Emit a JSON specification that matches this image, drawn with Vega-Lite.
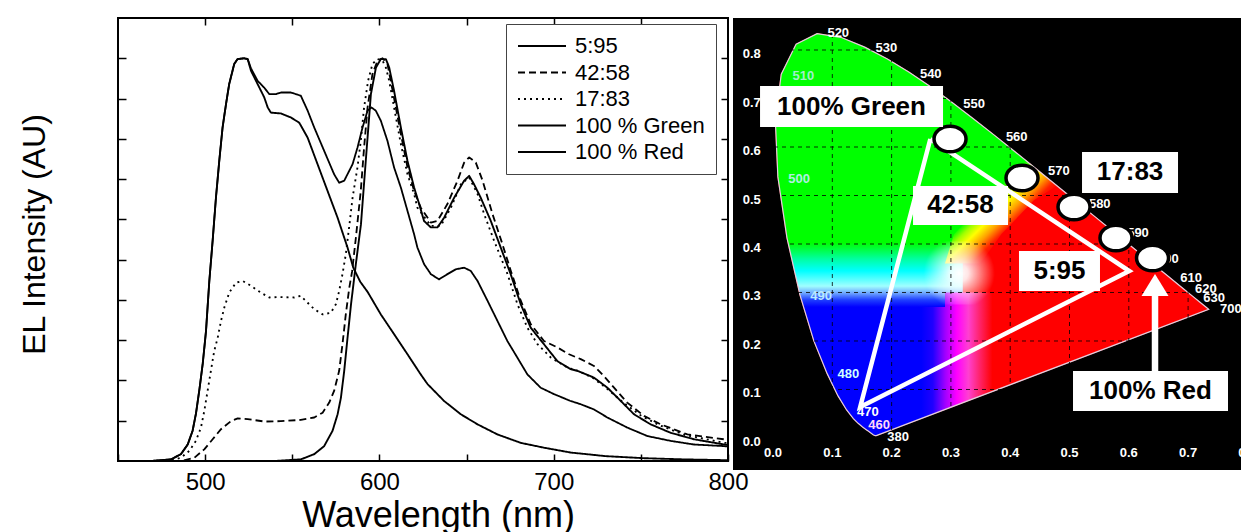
{
  "$schema": "https://vega.github.io/schema/vega-lite/v6.json",
  "background": "white",
  "padding": {"left": 17, "top": 16, "right": 0, "bottom": 0},
  "bounds": "flush",
  "spacing": 5,
  "config": {"font": "Liberation Sans"},
  "datasets": {
    "spectra": [
      {"s":"100 % Green","w":450,"v":0},{"s":"100 % Green","w":468.9,"v":0},{"s":"100 % Green","w":480.4,"v":0.004},{"s":"100 % Green","w":486.1,"v":0.017},{"s":"100 % Green","w":490,"v":0.041},{"s":"100 % Green","w":492.8,"v":0.075},{"s":"100 % Green","w":494.7,"v":0.117},{"s":"100 % Green","w":496.6,"v":0.174},{"s":"100 % Green","w":498.6,"v":0.241},{"s":"100 % Green","w":500.5,"v":0.323},{"s":"100 % Green","w":502.4,"v":0.447},{"s":"100 % Green","w":504.3,"v":0.547},{"s":"100 % Green","w":506.2,"v":0.654},{"s":"100 % Green","w":508.1,"v":0.745},{"s":"100 % Green","w":510,"v":0.828},{"s":"100 % Green","w":512,"v":0.887},{"s":"100 % Green","w":513.8,"v":0.936},{"s":"100 % Green","w":516.7,"v":0.986},{"s":"100 % Green","w":518.6,"v":0.998},{"s":"100 % Green","w":522.4,"v":1.0},{"s":"100 % Green","w":524.4,"v":0.998},{"s":"100 % Green","w":526.3,"v":0.969},{"s":"100 % Green","w":530.1,"v":0.936},{"s":"100 % Green","w":533.9,"v":0.903},{"s":"100 % Green","w":535.9,"v":0.878},{"s":"100 % Green","w":537.7,"v":0.865},{"s":"100 % Green","w":543.5,"v":0.863},{"s":"100 % Green","w":549.2,"v":0.853},{"s":"100 % Green","w":554,"v":0.84},{"s":"100 % Green","w":558.8,"v":0.803},{"s":"100 % Green","w":564.5,"v":0.737},{"s":"100 % Green","w":570.2,"v":0.671},{"s":"100 % Green","w":576,"v":0.604},{"s":"100 % Green","w":581.7,"v":0.53},{"s":"100 % Green","w":585,"v":0.48},{"s":"100 % Green","w":589,"v":0.445},{"s":"100 % Green","w":593.2,"v":0.42},{"s":"100 % Green","w":600.8,"v":0.364},{"s":"100 % Green","w":608.4,"v":0.315},{"s":"100 % Green","w":616.1,"v":0.265},{"s":"100 % Green","w":623.7,"v":0.215},{"s":"100 % Green","w":627.6,"v":0.191},{"s":"100 % Green","w":637.1,"v":0.149},{"s":"100 % Green","w":646.7,"v":0.116},{"s":"100 % Green","w":656.3,"v":0.091},{"s":"100 % Green","w":667.7,"v":0.066},{"s":"100 % Green","w":681.1,"v":0.045},{"s":"100 % Green","w":694.5,"v":0.033},{"s":"100 % Green","w":709.7,"v":0.021},{"s":"100 % Green","w":730,"v":0.012},{"s":"100 % Green","w":751.6,"v":0.007},{"s":"100 % Green","w":775,"v":0.004},{"s":"100 % Green","w":800,"v":0.002},
      {"s":"5:95","w":450,"v":0},{"s":"5:95","w":468.9,"v":0},{"s":"5:95","w":480.4,"v":0.004},{"s":"5:95","w":486.1,"v":0.017},{"s":"5:95","w":490,"v":0.041},{"s":"5:95","w":492.8,"v":0.075},{"s":"5:95","w":494.7,"v":0.117},{"s":"5:95","w":496.6,"v":0.174},{"s":"5:95","w":498.6,"v":0.241},{"s":"5:95","w":500.5,"v":0.323},{"s":"5:95","w":502.4,"v":0.447},{"s":"5:95","w":504.3,"v":0.547},{"s":"5:95","w":506.2,"v":0.654},{"s":"5:95","w":508.1,"v":0.745},{"s":"5:95","w":510,"v":0.828},{"s":"5:95","w":512,"v":0.887},{"s":"5:95","w":513.8,"v":0.936},{"s":"5:95","w":516.7,"v":0.986},{"s":"5:95","w":518.6,"v":0.998},{"s":"5:95","w":522.4,"v":1.0},{"s":"5:95","w":524.4,"v":0.998},{"s":"5:95","w":526.3,"v":0.975},{"s":"5:95","w":530.1,"v":0.944},{"s":"5:95","w":533.9,"v":0.927},{"s":"5:95","w":536.8,"v":0.911},{"s":"5:95","w":540.6,"v":0.911},{"s":"5:95","w":543.5,"v":0.915},{"s":"5:95","w":549.2,"v":0.915},{"s":"5:95","w":554.9,"v":0.907},{"s":"5:95","w":558.8,"v":0.87},{"s":"5:95","w":562.6,"v":0.828},{"s":"5:95","w":568.3,"v":0.77},{"s":"5:95","w":574,"v":0.712},{"s":"5:95","w":576.9,"v":0.691},{"s":"5:95","w":579.8,"v":0.696},{"s":"5:95","w":584.6,"v":0.737},{"s":"5:95","w":587.4,"v":0.778},{"s":"5:95","w":590.3,"v":0.828},{"s":"5:95","w":593.2,"v":0.87},{"s":"5:95","w":595.4,"v":0.878},{"s":"5:95","w":597.9,"v":0.87},{"s":"5:95","w":600.8,"v":0.845},{"s":"5:95","w":604.6,"v":0.795},{"s":"5:95","w":608.4,"v":0.729},{"s":"5:95","w":612.3,"v":0.679},{"s":"5:95","w":616.1,"v":0.621},{"s":"5:95","w":619.9,"v":0.563},{"s":"5:95","w":621.8,"v":0.53},{"s":"5:95","w":625.6,"v":0.489},{"s":"5:95","w":629.5,"v":0.464},{"s":"5:95","w":634.2,"v":0.451},{"s":"5:95","w":639,"v":0.464},{"s":"5:95","w":643.8,"v":0.476},{"s":"5:95","w":648.6,"v":0.48},{"s":"5:95","w":652.4,"v":0.472},{"s":"5:95","w":656.3,"v":0.447},{"s":"5:95","w":662,"v":0.398},{"s":"5:95","w":667.7,"v":0.348},{"s":"5:95","w":673.4,"v":0.298},{"s":"5:95","w":679.1,"v":0.257},{"s":"5:95","w":684.9,"v":0.215},{"s":"5:95","w":692.5,"v":0.182},{"s":"5:95","w":700.2,"v":0.166},{"s":"5:95","w":709.7,"v":0.149},{"s":"5:95","w":715.5,"v":0.141},{"s":"5:95","w":723.1,"v":0.128},{"s":"5:95","w":730.8,"v":0.108},{"s":"5:95","w":742.2,"v":0.083},{"s":"5:95","w":753.7,"v":0.062},{"s":"5:95","w":767,"v":0.05},{"s":"5:95","w":780.4,"v":0.041},{"s":"5:95","w":797.6,"v":0.037},{"s":"5:95","w":800,"v":0.036},
      {"s":"100 % Red","w":450,"v":0},{"s":"100 % Red","w":540,"v":0},{"s":"100 % Red","w":554.9,"v":0.004},{"s":"100 % Red","w":562.6,"v":0.017},{"s":"100 % Red","w":568.3,"v":0.037},{"s":"100 % Red","w":573.1,"v":0.075},{"s":"100 % Red","w":576,"v":0.116},{"s":"100 % Red","w":577.9,"v":0.157},{"s":"100 % Red","w":579.8,"v":0.224},{"s":"100 % Red","w":581.7,"v":0.306},{"s":"100 % Red","w":583.7,"v":0.389},{"s":"100 % Red","w":586.5,"v":0.49},{"s":"100 % Red","w":589.4,"v":0.588},{"s":"100 % Red","w":592.3,"v":0.753},{"s":"100 % Red","w":595.1,"v":0.911},{"s":"100 % Red","w":598,"v":0.977},{"s":"100 % Red","w":600.8,"v":0.998},{"s":"100 % Red","w":603.7,"v":0.998},{"s":"100 % Red","w":605.6,"v":0.977},{"s":"100 % Red","w":608.4,"v":0.919},{"s":"100 % Red","w":612.3,"v":0.828},{"s":"100 % Red","w":616.1,"v":0.745},{"s":"100 % Red","w":619.9,"v":0.679},{"s":"100 % Red","w":622.8,"v":0.638},{"s":"100 % Red","w":625.6,"v":0.596},{"s":"100 % Red","w":629.5,"v":0.58},{"s":"100 % Red","w":633.3,"v":0.58},{"s":"100 % Red","w":637.1,"v":0.604},{"s":"100 % Red","w":642.9,"v":0.654},{"s":"100 % Red","w":648.6,"v":0.696},{"s":"100 % Red","w":651.5,"v":0.708},{"s":"100 % Red","w":654.3,"v":0.687},{"s":"100 % Red","w":658.1,"v":0.654},{"s":"100 % Red","w":663.9,"v":0.596},{"s":"100 % Red","w":669.6,"v":0.53},{"s":"100 % Red","w":675.3,"v":0.464},{"s":"100 % Red","w":681.1,"v":0.389},{"s":"100 % Red","w":686.8,"v":0.331},{"s":"100 % Red","w":694.4,"v":0.29},{"s":"100 % Red","w":702.1,"v":0.248},{"s":"100 % Red","w":709.7,"v":0.228},{"s":"100 % Red","w":713.6,"v":0.224},{"s":"100 % Red","w":723.1,"v":0.207},{"s":"100 % Red","w":730.8,"v":0.182},{"s":"100 % Red","w":738.5,"v":0.149},{"s":"100 % Red","w":746.1,"v":0.116},{"s":"100 % Red","w":755.6,"v":0.091},{"s":"100 % Red","w":767.1,"v":0.07},{"s":"100 % Red","w":780.5,"v":0.054},{"s":"100 % Red","w":797.7,"v":0.041},{"s":"100 % Red","w":800,"v":0.04},
      {"s":"42:58","w":450,"v":0},{"s":"42:58","w":486.1,"v":0},{"s":"42:58","w":493.8,"v":0.008},{"s":"42:58","w":499.5,"v":0.029},{"s":"42:58","w":504.3,"v":0.054},{"s":"42:58","w":509.1,"v":0.079},{"s":"42:58","w":514.8,"v":0.099},{"s":"42:58","w":518.7,"v":0.106},{"s":"42:58","w":524.4,"v":0.104},{"s":"42:58","w":533.9,"v":0.098},{"s":"42:58","w":543.5,"v":0.099},{"s":"42:58","w":554.9,"v":0.102},{"s":"42:58","w":562.6,"v":0.108},{"s":"42:58","w":567.4,"v":0.12},{"s":"42:58","w":571.2,"v":0.145},{"s":"42:58","w":574,"v":0.174},{"s":"42:58","w":576.9,"v":0.224},{"s":"42:58","w":578.8,"v":0.29},{"s":"42:58","w":580.7,"v":0.364},{"s":"42:58","w":582.7,"v":0.43},{"s":"42:58","w":584.3,"v":0.47},{"s":"42:58","w":586.5,"v":0.555},{"s":"42:58","w":589.3,"v":0.671},{"s":"42:58","w":591.2,"v":0.778},{"s":"42:58","w":593.2,"v":0.878},{"s":"42:58","w":596,"v":0.961},{"s":"42:58","w":598.9,"v":0.994},{"s":"42:58","w":601.8,"v":1.0},{"s":"42:58","w":604.6,"v":0.986},{"s":"42:58","w":606.5,"v":0.944},{"s":"42:58","w":609.4,"v":0.878},{"s":"42:58","w":612.3,"v":0.812},{"s":"42:58","w":616.1,"v":0.729},{"s":"42:58","w":619.9,"v":0.671},{"s":"42:58","w":623.7,"v":0.629},{"s":"42:58","w":629.5,"v":0.592},{"s":"42:58","w":633.3,"v":0.596},{"s":"42:58","w":639,"v":0.638},{"s":"42:58","w":644.8,"v":0.696},{"s":"42:58","w":648.6,"v":0.741},{"s":"42:58","w":651.5,"v":0.754},{"s":"42:58","w":655.3,"v":0.741},{"s":"42:58","w":659.2,"v":0.696},{"s":"42:58","w":664.9,"v":0.613},{"s":"42:58","w":670.6,"v":0.538},{"s":"42:58","w":675.4,"v":0.472},{"s":"42:58","w":681.1,"v":0.398},{"s":"42:58","w":686.8,"v":0.34},{"s":"42:58","w":694.4,"v":0.298},{"s":"42:58","w":702.1,"v":0.282},{"s":"42:58","w":708.8,"v":0.265},{"s":"42:58","w":715.5,"v":0.253},{"s":"42:58","w":723.1,"v":0.236},{"s":"42:58","w":728.8,"v":0.211},{"s":"42:58","w":734.6,"v":0.182},{"s":"42:58","w":742.2,"v":0.145},{"s":"42:58","w":751.8,"v":0.112},{"s":"42:58","w":761.4,"v":0.091},{"s":"42:58","w":776.7,"v":0.066},{"s":"42:58","w":797.7,"v":0.054},{"s":"42:58","w":800,"v":0.053},
      {"s":"17:83","w":450,"v":0},{"s":"17:83","w":478.5,"v":0},{"s":"17:83","w":486.1,"v":0.008},{"s":"17:83","w":490.9,"v":0.025},{"s":"17:83","w":494.7,"v":0.05},{"s":"17:83","w":497.6,"v":0.083},{"s":"17:83","w":499.5,"v":0.124},{"s":"17:83","w":501.4,"v":0.174},{"s":"17:83","w":503.3,"v":0.224},{"s":"17:83","w":505.2,"v":0.273},{"s":"17:83","w":507.2,"v":0.306},{"s":"17:83","w":509.1,"v":0.348},{"s":"17:83","w":511,"v":0.381},{"s":"17:83","w":513.8,"v":0.418},{"s":"17:83","w":517.7,"v":0.443},{"s":"17:83","w":521.5,"v":0.447},{"s":"17:83","w":526.3,"v":0.435},{"s":"17:83","w":532,"v":0.418},{"s":"17:83","w":536.8,"v":0.406},{"s":"17:83","w":542.5,"v":0.407},{"s":"17:83","w":551.1,"v":0.406},{"s":"17:83","w":554.9,"v":0.41},{"s":"17:83","w":558.8,"v":0.393},{"s":"17:83","w":562.6,"v":0.377},{"s":"17:83","w":567.4,"v":0.364},{"s":"17:83","w":572.1,"v":0.368},{"s":"17:83","w":575,"v":0.389},{"s":"17:83","w":576.9,"v":0.422},{"s":"17:83","w":578.8,"v":0.464},{"s":"17:83","w":580.7,"v":0.513},{"s":"17:83","w":582.6,"v":0.58},{"s":"17:83","w":584.6,"v":0.654},{"s":"17:83","w":587.4,"v":0.729},{"s":"17:83","w":589.3,"v":0.795},{"s":"17:83","w":591.2,"v":0.878},{"s":"17:83","w":593.5,"v":0.944},{"s":"17:83","w":596,"v":0.986},{"s":"17:83","w":598.9,"v":0.998},{"s":"17:83","w":601.8,"v":0.994},{"s":"17:83","w":603.7,"v":0.977},{"s":"17:83","w":605.6,"v":0.944},{"s":"17:83","w":608.4,"v":0.878},{"s":"17:83","w":612.3,"v":0.787},{"s":"17:83","w":616.1,"v":0.712},{"s":"17:83","w":619.9,"v":0.663},{"s":"17:83","w":621.8,"v":0.629},{"s":"17:83","w":629.5,"v":0.584},{"s":"17:83","w":635.2,"v":0.584},{"s":"17:83","w":641,"v":0.629},{"s":"17:83","w":646.7,"v":0.687},{"s":"17:83","w":651.5,"v":0.704},{"s":"17:83","w":656.3,"v":0.663},{"s":"17:83","w":660.1,"v":0.613},{"s":"17:83","w":665.8,"v":0.547},{"s":"17:83","w":673.5,"v":0.464},{"s":"17:83","w":679.2,"v":0.389},{"s":"17:83","w":684.9,"v":0.331},{"s":"17:83","w":690.7,"v":0.29},{"s":"17:83","w":698.3,"v":0.257},{"s":"17:83","w":707.9,"v":0.232},{"s":"17:83","w":715,"v":0.222},{"s":"17:83","w":723,"v":0.205},{"s":"17:83","w":731,"v":0.178},{"s":"17:83","w":740,"v":0.145},{"s":"17:83","w":750,"v":0.113},{"s":"17:83","w":760,"v":0.09},{"s":"17:83","w":775,"v":0.065},{"s":"17:83","w":798,"v":0.045},{"s":"17:83","w":800,"v":0.045}
    ],
    "poly": [
      {"p":"shoe","i":0,"x":0.1741,"y":0.005},{"p":"shoe","i":1,"x":0.1738,"y":0.0049},{"p":"shoe","i":2,"x":0.1733,"y":0.0048},{"p":"shoe","i":3,"x":0.1726,"y":0.0048},{"p":"shoe","i":4,"x":0.1714,"y":0.0051},{"p":"shoe","i":5,"x":0.1689,"y":0.0069},{"p":"shoe","i":6,"x":0.1644,"y":0.0109},{"p":"shoe","i":7,"x":0.1611,"y":0.0138},{"p":"shoe","i":8,"x":0.1566,"y":0.0177},{"p":"shoe","i":9,"x":0.151,"y":0.0227},{"p":"shoe","i":10,"x":0.144,"y":0.0297},{"p":"shoe","i":11,"x":0.1355,"y":0.0399},{"p":"shoe","i":12,"x":0.1241,"y":0.0578},{"p":"shoe","i":13,"x":0.1096,"y":0.0868},{"p":"shoe","i":14,"x":0.0913,"y":0.1327},{"p":"shoe","i":15,"x":0.0687,"y":0.2007},{"p":"shoe","i":16,"x":0.0454,"y":0.295},{"p":"shoe","i":17,"x":0.0235,"y":0.4127},{"p":"shoe","i":18,"x":0.0082,"y":0.5384},{"p":"shoe","i":19,"x":0.0039,"y":0.6548},{"p":"shoe","i":20,"x":0.0139,"y":0.7502},{"p":"shoe","i":21,"x":0.0389,"y":0.812},{"p":"shoe","i":22,"x":0.0743,"y":0.8338},{"p":"shoe","i":23,"x":0.1142,"y":0.8262},{"p":"shoe","i":24,"x":0.1547,"y":0.8059},{"p":"shoe","i":25,"x":0.1929,"y":0.7816},{"p":"shoe","i":26,"x":0.2296,"y":0.7543},{"p":"shoe","i":27,"x":0.2658,"y":0.7243},{"p":"shoe","i":28,"x":0.3016,"y":0.6923},{"p":"shoe","i":29,"x":0.3373,"y":0.6589},{"p":"shoe","i":30,"x":0.3731,"y":0.6245},{"p":"shoe","i":31,"x":0.4087,"y":0.5896},{"p":"shoe","i":32,"x":0.4441,"y":0.5547},{"p":"shoe","i":33,"x":0.4788,"y":0.5202},{"p":"shoe","i":34,"x":0.5125,"y":0.4866},{"p":"shoe","i":35,"x":0.5448,"y":0.4544},{"p":"shoe","i":36,"x":0.5752,"y":0.4242},{"p":"shoe","i":37,"x":0.6029,"y":0.3965},{"p":"shoe","i":38,"x":0.627,"y":0.3725},{"p":"shoe","i":39,"x":0.6482,"y":0.3514},{"p":"shoe","i":40,"x":0.6658,"y":0.334},{"p":"shoe","i":41,"x":0.6915,"y":0.3083},{"p":"shoe","i":42,"x":0.7079,"y":0.292},{"p":"shoe","i":43,"x":0.719,"y":0.2809},{"p":"shoe","i":44,"x":0.73,"y":0.27},{"p":"shoe","i":45,"x":0.7347,"y":0.2653},{"p":"shoe","i":46,"x":0.1741,"y":0.005},
      {"p":"left","i":0,"x":0.4441,"y":0.5547},{"p":"left","i":1,"x":0.4087,"y":0.5896},{"p":"left","i":2,"x":0.3731,"y":0.6245},{"p":"left","i":3,"x":0.3373,"y":0.6589},{"p":"left","i":4,"x":0.3016,"y":0.6923},{"p":"left","i":5,"x":0.2658,"y":0.7243},{"p":"left","i":6,"x":0.2296,"y":0.7543},{"p":"left","i":7,"x":0.1929,"y":0.7816},{"p":"left","i":8,"x":0.1547,"y":0.8059},{"p":"left","i":9,"x":0.1142,"y":0.8262},{"p":"left","i":10,"x":0.0743,"y":0.8338},{"p":"left","i":11,"x":0.0389,"y":0.812},{"p":"left","i":12,"x":0.0139,"y":0.7502},{"p":"left","i":13,"x":0.0039,"y":0.6548},{"p":"left","i":14,"x":0.0082,"y":0.5384},{"p":"left","i":15,"x":0.0235,"y":0.4127},{"p":"left","i":16,"x":0.0454,"y":0.295},{"p":"left","i":17,"x":0.0687,"y":0.2007},{"p":"left","i":18,"x":0.0913,"y":0.1327},{"p":"left","i":19,"x":0.1096,"y":0.0868},{"p":"left","i":20,"x":0.1241,"y":0.0578},{"p":"left","i":21,"x":0.1355,"y":0.0399},{"p":"left","i":22,"x":0.144,"y":0.0297},{"p":"left","i":23,"x":0.151,"y":0.0227},{"p":"left","i":24,"x":0.1566,"y":0.0177},{"p":"left","i":25,"x":0.1611,"y":0.0138},{"p":"left","i":26,"x":0.1644,"y":0.0109},{"p":"left","i":27,"x":0.1689,"y":0.0069},{"p":"left","i":28,"x":0.1714,"y":0.0051},{"p":"left","i":29,"x":0.1733,"y":0.0048},{"p":"left","i":30,"x":0.1741,"y":0.005},{"p":"left","i":31,"x":0.27,"y":0.0495},{"p":"left","i":32,"x":0.27,"y":0.27},{"p":"left","i":33,"x":0.32,"y":0.27},{"p":"left","i":34,"x":0.32,"y":0.37},{"p":"left","i":35,"x":0.345,"y":0.42},{"p":"left","i":36,"x":0.4,"y":0.49},
      {"p":"mag","i":0,"x":0.25,"y":0.0402},{"p":"mag","i":1,"x":0.25,"y":0.27},{"p":"mag","i":2,"x":0.29,"y":0.27},{"p":"mag","i":3,"x":0.29,"y":0.3},{"p":"mag","i":4,"x":0.4,"y":0.3},{"p":"mag","i":5,"x":0.4,"y":0.1099},
      {"p":"yel","i":0,"x":0.29,"y":0.36},{"p":"yel","i":1,"x":0.305,"y":0.42},{"p":"yel","i":2,"x":0.36,"y":0.49},{"p":"yel","i":3,"x":0.4087,"y":0.5896},{"p":"yel","i":4,"x":0.4441,"y":0.5547},{"p":"yel","i":5,"x":0.4788,"y":0.5202},{"p":"yel","i":6,"x":0.44,"y":0.49},{"p":"yel","i":7,"x":0.385,"y":0.42},{"p":"yel","i":8,"x":0.35,"y":0.36},
      {"p":"spot","i":0,"x":0.254,"y":0.275},{"p":"spot","i":1,"x":0.254,"y":0.405},{"p":"spot","i":2,"x":0.374,"y":0.405},{"p":"spot","i":3,"x":0.374,"y":0.275}
    ],
    "wl": [
      {"t":"520","x":0.110,"y":0.835},{"t":"530","x":0.191,"y":0.804},{"t":"540","x":0.266,"y":0.751},{"t":"550","x":0.339,"y":0.689},{"t":"560","x":0.411,"y":0.62},{"t":"570","x":0.482,"y":0.551},{"t":"580","x":0.551,"y":0.4825},{"t":"590","x":0.6155,"y":0.4227},{"t":"600","x":0.666,"y":0.369},{"t":"610","x":0.705,"y":0.33},{"t":"620","x":0.73,"y":0.307},{"t":"630","x":0.744,"y":0.289},{"t":"700","x":0.772,"y":0.266},{"t":"510","x":0.051,"y":0.746},{"t":"500","x":0.044,"y":0.534},{"t":"490","x":0.081,"y":0.293},{"t":"480","x":0.127,"y":0.132},{"t":"470","x":0.16,"y":0.054},{"t":"460","x":0.179,"y":0.027},{"t":"380","x":0.211,"y":0.002}
    ],
    "ticks": [{"v":0},{"v":0.1},{"v":0.2},{"v":0.3},{"v":0.4},{"v":0.5},{"v":0.6},{"v":0.7},{"v":0.8}],
    "tri": [{"i":0,"x":0.2653,"y":0.6165},{"i":1,"x":0.6008,"y":0.3443},{"i":2,"x":0.147,"y":0.064},{"i":3,"x":0.2653,"y":0.6165}],
    "circ": [{"x":0.2985,"y":0.6165},{"x":0.4199,"y":0.5361},{"x":0.5076,"y":0.4763},{"x":0.5784,"y":0.4124},{"x":0.64,"y":0.3711}],
    "boxes": [
      {"t":"100% Green","x1":-0.0219,"x2":0.2867,"y1":0.6412,"y2":0.7258,"tx":0.1324,"ty":0.6835},
      {"t":"17:83","x1":0.5211,"x2":0.683,"y1":0.5052,"y2":0.5897,"tx":0.6021,"ty":0.5475},
      {"t":"42:58","x1":0.2361,"x2":0.3963,"y1":0.4392,"y2":0.5196,"tx":0.3162,"ty":0.4794},
      {"t":"5:95","x1":0.4148,"x2":0.5514,"y1":0.3031,"y2":0.3856,"tx":0.4831,"ty":0.3444},
      {"t":"100% Red","x1":0.5059,"x2":0.7673,"y1":0.0557,"y2":0.1381,"tx":0.6366,"ty":0.0969}
    ]
  },
  "hconcat": [
    {
      "width": 610,
      "height": 443,
      "view": {"stroke": "black", "strokeWidth": 2},
      "data": {"name": "spectra"},
      "layer": [
        {
          "mark": {"type": "line", "color": "black", "strokeJoin": "round"},
          "encoding": {
            "x": {"field": "w", "type": "quantitative", "scale": {"domain": [450, 800], "nice": false, "zero": false},
              "axis": {"orient": "bottom", "values": [450, 500, 550, 600, 650, 700, 750, 800], "labelExpr": "datum.value % 100 == 0 ? datum.label : ''", "domain": false, "grid": false, "tickSize": -7, "tickColor": "black", "tickWidth": 1.5, "labelFontSize": 24, "labelColor": "black", "labelPadding": 16, "labelFlush": false, "labelOverlap": false, "title": "Wavelength (nm)", "titleFontSize": 36, "titleFontWeight": "normal", "titleColor": "black", "titleX": 320, "titleY": 65, "titleBaseline": "alphabetic", "titleAlign": "center"}},
            "y": {"field": "v", "type": "quantitative", "scale": {"domain": [0, 1.1], "nice": false},
              "axis": {"orient": "left", "values": [0.1, 0.2, 0.3, 0.4, 0.5, 0.6, 0.7, 0.8, 0.9, 1.0], "labels": false, "domain": false, "grid": false, "tickSize": -8, "tickColor": "black", "tickWidth": 1.5, "title": "EL Intensity (AU)", "titleFontSize": 32, "titleFontWeight": "normal", "titleColor": "black", "titleX": -84, "titleY": 216, "titleAngle": 270, "titleBaseline": "middle", "titleAlign": "center"}},
            "detail": {"field": "s"},
            "strokeDash": {"field": "s", "type": "ordinal",
              "scale": {"domain": ["5:95", "42:58", "17:83", "100 % Green", "100 % Red"], "range": [[1, 0], [7, 4], [2, 4], [1, 0], [1, 0]]},
              "legend": {"orient": "none", "legendX": 388, "legendY": 6, "title": null, "symbolType": "stroke", "symbolSize": 2304, "symbolStrokeColor": "black", "labelFontSize": 22, "labelColor": "black", "labelOffset": 8, "padding": 11, "rowPadding": 4.5, "clipHeight": 22, "strokeColor": "#444", "fillColor": "white", "symbolOffset": 0, "labelLimit": 300}},
            "strokeWidth": {"field": "s", "type": "ordinal",
              "scale": {"domain": ["5:95", "42:58", "17:83", "100 % Green", "100 % Red"], "range": [1.8, 1.9, 2.1, 2.4, 2.4]},
              "legend": {"orient": "none", "legendX": 388, "legendY": 6, "title": null, "symbolType": "stroke", "symbolSize": 2304, "symbolStrokeColor": "black", "labelFontSize": 22, "labelColor": "black", "labelOffset": 8, "padding": 11, "rowPadding": 4.5, "clipHeight": 22, "strokeColor": "#444", "fillColor": "white", "symbolOffset": 0, "labelLimit": 300}}
          }
        },
        {
          "mark": {"type": "point", "opacity": 0},
          "encoding": {
            "x": {"field": "w", "type": "quantitative", "scale": {"domain": [450, 800], "nice": false, "zero": false},
              "axis": {"orient": "top", "values": [500, 550, 600, 650, 700, 750], "labels": false, "domain": false, "grid": false, "tickSize": -7, "tickColor": "black", "tickWidth": 1.5, "title": null}},
            "y": {"field": "v", "type": "quantitative", "scale": {"domain": [0, 1.1], "nice": false},
              "axis": {"orient": "right", "values": [0.1, 0.2, 0.3, 0.4, 0.5, 0.6, 0.7, 0.8, 0.9, 1.0], "labels": false, "domain": false, "grid": false, "tickSize": -7, "tickColor": "black", "tickWidth": 1.5, "title": null}}
          }
        }
      ],
      "resolve": {"axis": {"x": "independent", "y": "independent"}}
    },
    {
      "width": 509,
      "height": 452,
      "view": {"fill": "black", "stroke": null},
      "layer": [
        {
          "data": {"name": "poly"},
          "transform": [{"filter": "datum.p == 'shoe'"}],
          "mark": {"type": "line", "fill": "#ff0000", "stroke": "#ff0000", "strokeWidth": 1},
          "encoding": {
            "x": {"field": "x", "type": "quantitative", "scale": {"domain": [-0.0675, 0.7909], "nice": false, "zero": false}, "axis": null},
            "y": {"field": "y", "type": "quantitative", "scale": {"domain": [-0.066, 0.866], "nice": false, "zero": false}, "axis": null},
            "order": {"field": "i", "type": "quantitative"}
          }
        },
        {
          "data": {"name": "poly"},
          "transform": [{"filter": "datum.p == 'left'"}],
          "mark": {"type": "line", "strokeWidth": 0, "strokeOpacity": 0,
            "fill": {"gradient": "linear", "x1": 0, "y1": 0, "x2": 0, "y2": 1, "stops": [
              {"offset": 0, "color": "#00ff00"}, {"offset": 0.52, "color": "#00ff00"}, {"offset": 0.56, "color": "#00ffa0"}, {"offset": 0.59, "color": "#00ffff"}, {"offset": 0.628, "color": "#a0ffff"}, {"offset": 0.645, "color": "#70a8ff"}, {"offset": 0.662, "color": "#2040ff"}, {"offset": 0.68, "color": "#0000ff"}, {"offset": 1, "color": "#0000ff"}]}},
          "encoding": {
            "x": {"field": "x", "type": "quantitative", "scale": {"domain": [-0.0675, 0.7909], "nice": false, "zero": false}, "axis": null},
            "y": {"field": "y", "type": "quantitative", "scale": {"domain": [-0.066, 0.866], "nice": false, "zero": false}, "axis": null},
            "order": {"field": "i", "type": "quantitative"}
          }
        },
        {
          "data": {"name": "poly"},
          "transform": [{"filter": "datum.p == 'mag'"}],
          "mark": {"type": "line", "strokeWidth": 0, "strokeOpacity": 0,
            "fill": {"gradient": "linear", "x1": 0, "y1": 0, "x2": 1, "y2": 0, "stops": [
              {"offset": 0, "color": "#0000ff"}, {"offset": 0.13, "color": "#2000ff"}, {"offset": 0.27, "color": "#a000ff"}, {"offset": 0.4, "color": "#ff00ff"}, {"offset": 0.53, "color": "#ff40d0"}, {"offset": 0.67, "color": "#ff2060"}, {"offset": 0.8, "color": "#ff0000"}, {"offset": 1, "color": "#ff0000"}]}},
          "encoding": {
            "x": {"field": "x", "type": "quantitative", "scale": {"domain": [-0.0675, 0.7909], "nice": false, "zero": false}, "axis": null},
            "y": {"field": "y", "type": "quantitative", "scale": {"domain": [-0.066, 0.866], "nice": false, "zero": false}, "axis": null},
            "order": {"field": "i", "type": "quantitative"}
          }
        },
        {
          "data": {"name": "poly"},
          "transform": [{"filter": "datum.p == 'yel'"}],
          "mark": {"type": "line", "strokeWidth": 0, "strokeOpacity": 0,
            "fill": {"gradient": "linear", "x1": 0, "y1": 0, "x2": 1, "y2": 1, "stops": [
              {"offset": 0, "color": "#00ff00"}, {"offset": 0.4, "color": "#00ff00"}, {"offset": 0.45, "color": "#a0ff00"}, {"offset": 0.5, "color": "#ffff00"}, {"offset": 0.56, "color": "#ffa000"}, {"offset": 0.62, "color": "#ff2000"}, {"offset": 0.66, "color": "#ff0000"}, {"offset": 1, "color": "#ff0000"}]}},
          "encoding": {
            "x": {"field": "x", "type": "quantitative", "scale": {"domain": [-0.0675, 0.7909], "nice": false, "zero": false}, "axis": null},
            "y": {"field": "y", "type": "quantitative", "scale": {"domain": [-0.066, 0.866], "nice": false, "zero": false}, "axis": null},
            "order": {"field": "i", "type": "quantitative"}
          }
        },
        {
          "data": {"name": "poly"},
          "transform": [{"filter": "datum.p == 'spot'"}],
          "mark": {"type": "line", "strokeWidth": 0, "strokeOpacity": 0,
            "fill": {"gradient": "radial", "x1": 0.5, "y1": 0.5, "r1": 0, "x2": 0.5, "y2": 0.5, "r2": 0.5, "stops": [
              {"offset": 0, "color": "rgba(255,255,255,1)"}, {"offset": 0.25, "color": "rgba(255,255,255,0.9)"}, {"offset": 1, "color": "rgba(255,255,255,0)"}]}},
          "encoding": {
            "x": {"field": "x", "type": "quantitative", "scale": {"domain": [-0.0675, 0.7909], "nice": false, "zero": false}, "axis": null},
            "y": {"field": "y", "type": "quantitative", "scale": {"domain": [-0.066, 0.866], "nice": false, "zero": false}, "axis": null},
            "order": {"field": "i", "type": "quantitative"}
          }
        },
        {
          "data": {"name": "poly"},
          "transform": [{"filter": "datum.p == 'shoe'"}],
          "mark": {"type": "line", "stroke": "#e0d0e0", "strokeWidth": 1.2},
          "encoding": {
            "x": {"field": "x", "type": "quantitative", "scale": {"domain": [-0.0675, 0.7909], "nice": false, "zero": false}, "axis": null},
            "y": {"field": "y", "type": "quantitative", "scale": {"domain": [-0.066, 0.866], "nice": false, "zero": false}, "axis": null},
            "order": {"field": "i", "type": "quantitative"}
          }
        },
        {
          "data": {"name": "ticks"},
          "transform": [{"filter": "datum.v > 0 && datum.v < 0.75"}],
          "mark": {"type": "rule", "color": "black", "strokeDash": [4, 4], "strokeWidth": 1, "opacity": 0.8},
          "encoding": {
            "x": {"field": "v", "type": "quantitative", "scale": {"domain": [-0.0675, 0.7909], "nice": false, "zero": false}, "axis": null}
          }
        },
        {
          "data": {"name": "ticks"},
          "transform": [{"filter": "datum.v > 0"}],
          "mark": {"type": "rule", "color": "black", "strokeDash": [4, 4], "strokeWidth": 1, "opacity": 0.8},
          "encoding": {
            "y": {"field": "v", "type": "quantitative", "scale": {"domain": [-0.066, 0.866], "nice": false, "zero": false}, "axis": null}
          }
        },
        {
          "data": {"name": "ticks"},
          "mark": {"type": "text", "color": "white", "fontWeight": "bold", "fontSize": 13, "baseline": "middle", "align": "center", "clip": true},
          "encoding": {
            "x": {"field": "v", "type": "quantitative", "scale": {"domain": [-0.0675, 0.7909], "nice": false, "zero": false}, "axis": null},
            "y": {"datum": -0.031, "type": "quantitative", "scale": {"domain": [-0.066, 0.866], "nice": false, "zero": false}, "axis": null},
            "text": {"field": "v", "type": "quantitative", "format": ".1f"}
          }
        },
        {
          "data": {"name": "ticks"},
          "mark": {"type": "text", "color": "white", "fontWeight": "bold", "fontSize": 13, "baseline": "middle", "align": "center", "dy": 4},
          "encoding": {
            "x": {"datum": -0.036, "type": "quantitative", "scale": {"domain": [-0.0675, 0.7909], "nice": false, "zero": false}, "axis": null},
            "y": {"field": "v", "type": "quantitative", "scale": {"domain": [-0.066, 0.866], "nice": false, "zero": false}, "axis": null},
            "text": {"field": "v", "type": "quantitative", "format": ".1f"}
          }
        },
        {
          "data": {"name": "wl"},
          "mark": {"type": "text", "fontWeight": "bold", "fontSize": 13, "baseline": "middle", "align": "center", "clip": true},
          "encoding": {
            "x": {"field": "x", "type": "quantitative", "scale": {"domain": [-0.0675, 0.7909], "nice": false, "zero": false}, "axis": null},
            "y": {"field": "y", "type": "quantitative", "scale": {"domain": [-0.066, 0.866], "nice": false, "zero": false}, "axis": null},
            "text": {"field": "t"},
            "color": {"field": "t", "type": "nominal", "legend": null,
              "scale": {"domain": ["510", "500", "490", "480", "460", "520", "530", "540", "550", "560", "570", "580", "590", "600", "610", "620", "630", "700", "470", "380"],
                "range": ["#9ff0c8", "#b0f0e0", "#b8e8ff", "#d0ffff", "#ffd8f8", "white", "white", "white", "white", "white", "white", "white", "white", "white", "white", "white", "white", "white", "white", "white"]}}
          }
        },
        {
          "data": {"name": "tri"},
          "mark": {"type": "line", "color": "white", "strokeWidth": 4.5, "strokeJoin": "miter"},
          "encoding": {
            "x": {"field": "x", "type": "quantitative", "scale": {"domain": [-0.0675, 0.7909], "nice": false, "zero": false}, "axis": null},
            "y": {"field": "y", "type": "quantitative", "scale": {"domain": [-0.066, 0.866], "nice": false, "zero": false}, "axis": null},
            "order": {"field": "i", "type": "quantitative"}
          }
        },
        {
          "data": {"values": [{}]},
          "mark": {"type": "rule", "color": "white", "strokeWidth": 6.5},
          "encoding": {
            "x": {"datum": 0.6442, "type": "quantitative", "scale": {"domain": [-0.0675, 0.7909], "nice": false, "zero": false}, "axis": null},
            "y": {"datum": 0.138, "type": "quantitative", "scale": {"domain": [-0.066, 0.866], "nice": false, "zero": false}, "axis": null},
            "y2": {"datum": 0.303}
          }
        },
        {
          "data": {"values": [{}]},
          "mark": {"type": "point", "shape": "M0,-0.815L1,0.815L-1,0.815Z", "size": 729, "filled": true, "color": "white", "opacity": 1},
          "encoding": {
            "x": {"datum": 0.6442, "type": "quantitative", "scale": {"domain": [-0.0675, 0.7909], "nice": false, "zero": false}, "axis": null},
            "y": {"datum": 0.3155, "type": "quantitative", "scale": {"domain": [-0.066, 0.866], "nice": false, "zero": false}, "axis": null}
          }
        },
        {
          "data": {"name": "circ"},
          "mark": {"type": "point", "shape": "M-1,0A1,0.8 0 1,1 1,0A1,0.8 0 1,1 -1,0Z", "size": 1024, "fill": "white", "fillOpacity": 1, "stroke": "black", "strokeWidth": 3.5, "opacity": 1},
          "encoding": {
            "x": {"field": "x", "type": "quantitative", "scale": {"domain": [-0.0675, 0.7909], "nice": false, "zero": false}, "axis": null},
            "y": {"field": "y", "type": "quantitative", "scale": {"domain": [-0.066, 0.866], "nice": false, "zero": false}, "axis": null}
          }
        },
        {
          "data": {"name": "boxes"},
          "mark": {"type": "rect", "color": "white"},
          "encoding": {
            "x": {"field": "x1", "type": "quantitative", "scale": {"domain": [-0.0675, 0.7909], "nice": false, "zero": false}, "axis": null},
            "x2": {"field": "x2"},
            "y": {"field": "y1", "type": "quantitative", "scale": {"domain": [-0.066, 0.866], "nice": false, "zero": false}, "axis": null},
            "y2": {"field": "y2"}
          }
        },
        {
          "data": {"name": "boxes"},
          "mark": {"type": "text", "color": "black", "fontWeight": "bold", "fontSize": 26, "baseline": "middle", "align": "center"},
          "encoding": {
            "x": {"field": "tx", "type": "quantitative", "scale": {"domain": [-0.0675, 0.7909], "nice": false, "zero": false}, "axis": null},
            "y": {"field": "ty", "type": "quantitative", "scale": {"domain": [-0.066, 0.866], "nice": false, "zero": false}, "axis": null},
            "text": {"field": "t"}
          }
        }
      ]
    }
  ]
}
